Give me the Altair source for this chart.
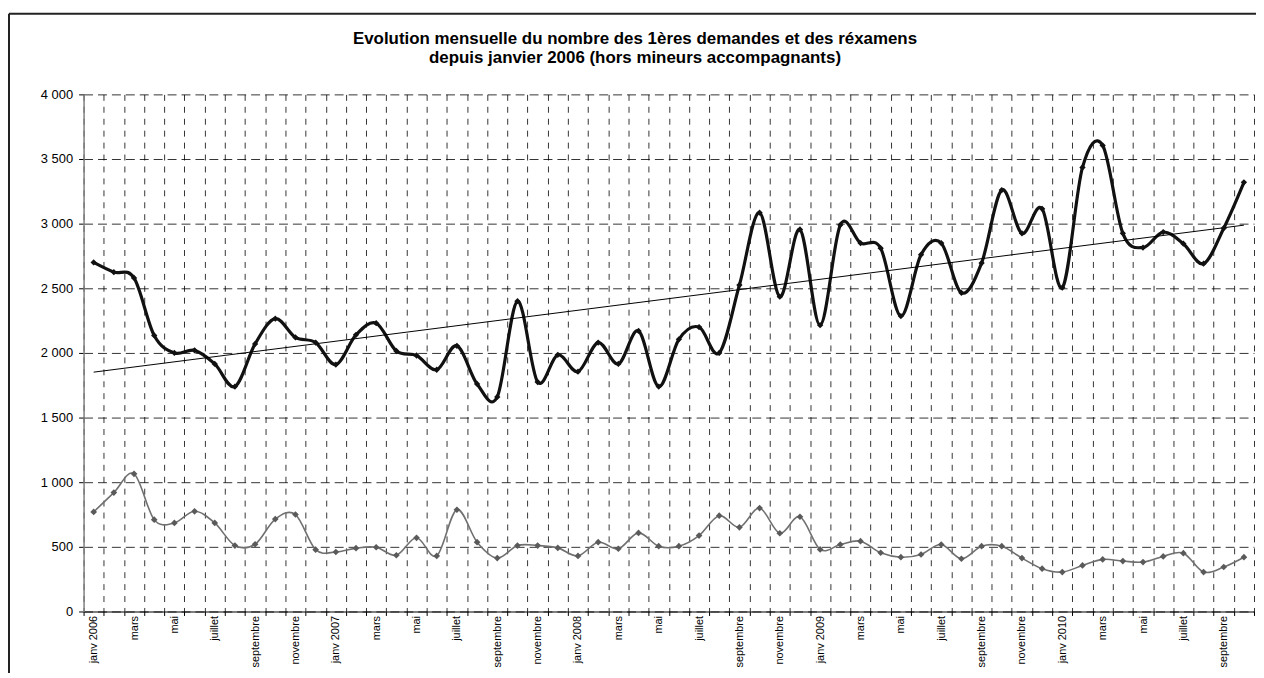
import altair as alt
import pandas as pd

# month index 0 = janv 2006 ... 57 = octobre 2010
months = list(range(58))

premieres_demandes = [2700, 2625, 2580, 2135, 2000, 2020, 1915, 1740, 2070, 2265, 2120, 2080,
                      1910, 2140, 2230, 2015, 1980, 1870, 2055, 1760, 1660, 2400, 1775, 1985,
                      1855, 2080, 1915, 2170, 1740, 2105, 2200, 2000, 2525, 3085, 2435, 2955,
                      2215, 2990, 2850, 2810, 2285, 2760, 2850, 2465, 2695, 3260, 2925, 3115,
                      2505, 3435, 3605, 2925, 2815, 2935, 2845, 2690, 2965, 3320]

reexamens = [770, 920, 1065, 710, 685, 775, 685, 510, 520, 715, 750, 478,
             460, 490, 497, 435, 570, 430, 787, 536, 413, 510, 510, 492,
             430, 536, 485, 608, 505, 505, 587, 741, 651, 800, 605, 733,
             480, 518, 544, 454, 420, 441, 518, 408, 505, 505, 413, 331,
             305, 356, 403, 390, 382, 426, 451, 305, 344, 420]

tick_labels = ["janv 2006", "mars", "mai", "juillet", "septembre", "novembre",
               "janv 2007", "mars", "mai", "juillet", "septembre", "novembre",
               "janv 2008", "mars", "mai", "juillet", "septembre", "novembre",
               "janv 2009", "mars", "mai", "juillet", "septembre", "novembre",
               "janv 2010", "mars", "mai", "juillet", "septembre"]

y_ticks = [0, 500, 1000, 1500, 2000, 2500, 3000, 3500, 4000]

title_lines = ["Evolution mensuelle du nombre des 1ères demandes et des réxamens",
               "depuis janvier 2006 (hors mineurs accompagnants)"]

FONT = "Liberation Sans"

df = pd.DataFrame({"i": months, "demandes": premieres_demandes, "reexamens": reexamens})
base = alt.Chart(df)

xscale = alt.Scale(domain=[-0.5, 57.5], nice=False, zero=False)
yscale = alt.Scale(domain=[0, 4000], nice=False, zero=True)

grid_axis = alt.Axis(
    values=[k - 0.5 for k in range(59)], grid=True, gridDash=[6, 6], gridColor="#000",
    gridOpacity=0.8, gridWidth=1, labels=False, ticks=True, tickSize=4, tickColor="#000",
    domain=True, domainColor="#000", domainWidth=1.2, title=None, orient="bottom",
    labelFlush=False,
)

label_js = "[" + ",".join('"%s"' % s for s in tick_labels) + "]"
label_axis = alt.Axis(
    values=list(range(0, 58, 2)), labelExpr=label_js + "[datum.value / 2]",
    labelAngle=-90, ticks=False, tickSize=0, domain=False, grid=False, labelPadding=4,
    labelFontSize=11, labelFont=FONT, labelColor="#000", orient="bottom", title=None,
    labelOverlap=False, labelFlush=False,
)

y_axis = alt.Axis(
    values=y_ticks, labelExpr="replace(format(datum.value, ','), ',', ' ')",
    grid=True, gridDash=[9, 5], gridColor="#000", gridOpacity=0.8, gridWidth=1,
    tickSize=5, tickColor="#000", labelPadding=6, labelFontSize=13, labelFont=FONT,
    labelColor="#000", domainColor="#808080", domainWidth=1.5, title=None,
    labelFlush=False, labelOverlap=False, orient="left",
)

gray_line = base.mark_line(interpolate="cardinal", color="#707070", strokeWidth=1.6).encode(
    x=alt.X("i:Q", scale=xscale, axis=label_axis),
    y=alt.Y("reexamens:Q", scale=yscale, axis=y_axis),
)
gray_pts = base.mark_point(shape="diamond", filled=True, color="#5a5a5a", size=45, opacity=1).encode(
    x=alt.X("i:Q", scale=xscale, axis=None),
    y=alt.Y("reexamens:Q", scale=yscale, axis=y_axis),
)
trend = base.transform_regression("i", "demandes").mark_line(color="#000", strokeWidth=1).encode(
    x=alt.X("i:Q", scale=xscale, axis=None),
    y=alt.Y("demandes:Q", scale=yscale, axis=y_axis),
)
black_line = base.mark_line(interpolate="cardinal", color="#111", strokeWidth=3.2).encode(
    x=alt.X("i:Q", scale=xscale, axis=grid_axis),
    y=alt.Y("demandes:Q", scale=yscale, axis=y_axis),
)
black_pts = base.mark_point(shape="diamond", filled=True, color="#111", size=40, opacity=1).encode(
    x=alt.X("i:Q", scale=xscale, axis=None),
    y=alt.Y("demandes:Q", scale=yscale, axis=y_axis),
)

frame_df = pd.DataFrame({"k": [0]})
border_left = alt.Chart(frame_df).mark_rule(color="#222", strokeWidth=2).encode(
    x=alt.value(-75), y=alt.value(-81), y2=alt.value(600)
)
border_top = alt.Chart(frame_df).mark_rule(color="#222", strokeWidth=2).encode(
    x=alt.value(-75), x2=alt.value(1200), y=alt.value(-81)
)

chart = alt.layer(
    black_line, gray_line, gray_pts, trend, black_pts, border_left, border_top
).resolve_axis(x="independent").properties(
    width=1177, height=520,
    autosize=alt.AutoSizeParams(type="none"),
    padding={"left": 76, "top": 85, "right": 2, "bottom": 60},
    title=alt.TitleParams(
        title_lines, font=FONT, fontSize=17, fontWeight="bold", anchor="middle",
        dx=-34, offset=-54, lineHeight=19, color="#000",
    ),
    background="white",
).configure_view(stroke=None)

chart.save("out.html", embed_options={"renderer": "svg", "actions": False})
